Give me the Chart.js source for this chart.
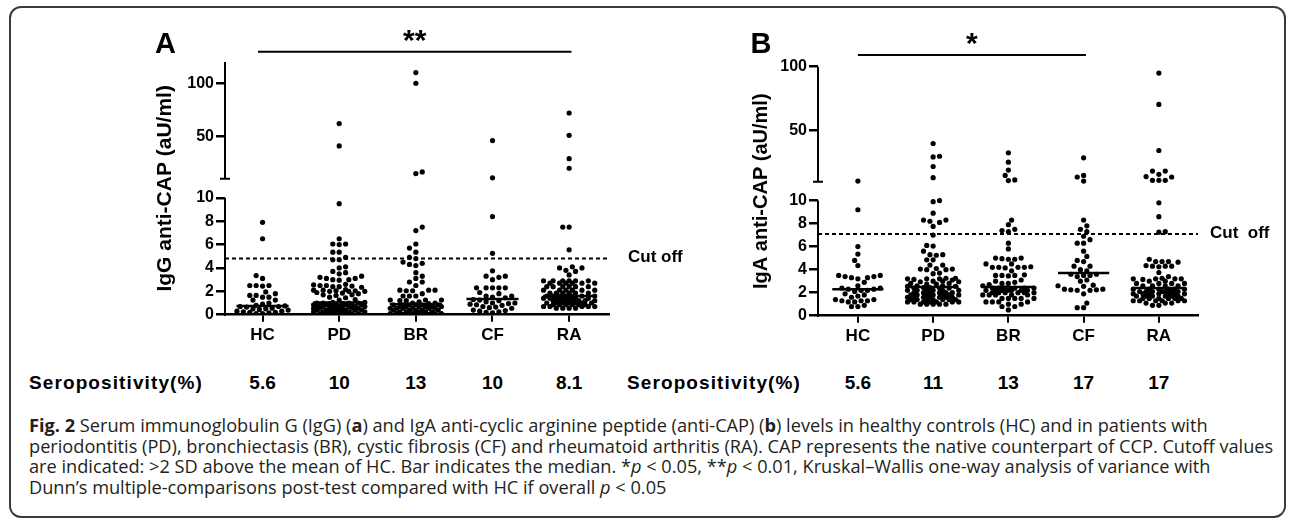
<!DOCTYPE html>
<html>
<head>
<meta charset="utf-8">
<script src="https://cdn.jsdelivr.net/npm/chart.js@4.4.1/dist/chart.umd.min.js"></script>
<style>
  body { margin: 0; background: #fff; width: 1292px; height: 520px; position: relative; overflow: hidden; }
  #frame { position: absolute; left: 9px; top: 6px; width: 1277px; height: 512px; box-sizing: border-box;
           border: 2px solid #3a3a3a; border-radius: 12px; }
  canvas { position: absolute; top: 0; }
  #cA { left: 0; }
  #cB { left: 700px; }
  .sero { position: absolute; top: 372px; font: bold 19px 'Liberation Sans', Arial, sans-serif; line-height: 22px; color: #000; white-space: nowrap; }
  .serolab { letter-spacing: 1.1px; }
  .val { transform: translateX(-50%); }
  #caption { position: absolute; left: 29px; top: 415px; font-family: 'Open Sans', sans-serif; font-size: 18.2px;
             line-height: 20.5px; color: #231f20; white-space: nowrap; }
</style>
</head>
<body>
<div id="frame"></div>
<canvas id="cA" width="700" height="360"></canvas>
<canvas id="cB" width="592" height="360"></canvas>
<div class="sero serolab" style="left:29px">Seropositivity(%)</div>
<div class="sero serolab" style="left:627px">Seropositivity(%)</div>
<div id="caption"><b>Fig. 2</b> Serum immunoglobulin G (IgG) (<b>a</b>) and IgA anti-cyclic arginine peptide (anti-CAP) (<b>b</b>) levels in healthy controls (HC) and in patients with<br>periodontitis (PD), bronchiectasis (BR), cystic fibrosis (CF) and rheumatoid arthritis (RA). CAP represents the native counterpart of CCP. Cutoff values<br>are indicated: &gt;2 SD above the mean of HC. Bar indicates the median. *<i>p</i> &lt; 0.05, **<i>p</i> &lt; 0.01, Kruskal–Wallis one-way analysis of variance with<br>Dunn’s multiple-comparisons post-test compared with HC if overall <i>p</i> &lt; 0.05</div>
<script>
// groups on the x axis
const groups = ['HC', 'PD', 'BR', 'CF', 'RA'];

// panel A: IgG anti-CAP (aU/ml)
const hcA = [7.9, 6.5, 3.35, 3.1, 2.5, 2.5, 2.5, 2.45, 1.95, 1.8, 1.65, 1.65, 1.5, 1.5, 1.25, 1.25,
  1.0, 0.9, 0.8, 0.75, 0.7, 0.7, 0.65, 0.55, 0.5, 0.5, 0.45, 0.4, 0.3, 0.3, 0.25, 0.2, 0.2, 0.15, 0.1, 0.1];
const pdA = [62, 41, 9.5, 6.5, 6.05, 6.05, 6.0, 5.35, 5.35, 4.9, 4.7, 4.7, 4.1, 4.0, 3.7, 3.6, 3.5,
  3.3, 3.2, 3.1, 3.1, 3.0, 3.0, 2.95, 2.6, 2.55, 2.5, 2.5, 2.45, 2.4, 2.4, 2.35,
  2.15, 2.1, 2.1, 2.05, 2.05, 2.0, 2.0, 2.0, 1.9, 1.85, 1.8, 1.7, 1.7, 1.65, 1.5, 1.45, 1.3, 1.25,
  1.05, 1.05, 1.0, 1.0, 1.0, 1.0, 0.95, 0.95, 0.85, 0.85, 0.85, 0.85, 0.85, 0.85, 0.85,
  0.7, 0.7, 0.7, 0.7, 0.7, 0.7, 0.7, 0.55, 0.55, 0.55, 0.55, 0.55, 0.55, 0.55,
  0.4, 0.4, 0.4, 0.4, 0.4, 0.4, 0.4, 0.25, 0.25, 0.25, 0.25, 0.25, 0.25, 0.25,
  0.1, 0.1, 0.1, 0.1, 0.1, 0.1, 0.1];
const brA = [110, 100, 16.5, 15, 7.5, 7.2, 6.05, 5.7, 5.35, 4.9, 4.8, 4.5, 4.4, 4.3, 4.2, 3.6, 3.3, 3.1,
  2.8, 2.8, 2.5, 2.1, 2.1, 2.1, 2.05, 2.05, 1.8, 1.6, 1.6, 1.6, 1.25, 1.25, 1.25, 1.2, 1.2, 1.1, 1.0, 1.0, 0.95,
  0.85, 0.85, 0.85, 0.85, 0.85, 0.85, 0.7, 0.7, 0.7, 0.7, 0.7, 0.7, 0.55, 0.55, 0.55, 0.55, 0.55, 0.55,
  0.4, 0.4, 0.4, 0.4, 0.4, 0.25, 0.25, 0.25, 0.25, 0.25, 0.1, 0.1, 0.1, 0.1, 0.1, 0.02, 0.02, 0.02, 0.02, 0.02];
const cfA = [46, 11, 8.4, 5.25, 3.75, 3.3, 3.3, 3.2, 3.0, 2.3, 2.3, 2.3, 2.3, 2.3, 1.9, 1.8, 1.6, 1.6, 1.5, 1.45,
  1.3, 1.25, 1.2, 1.1, 1.0, 1.0, 0.95, 0.9, 0.85, 0.8, 0.7, 0.65, 0.6, 0.55, 0.4, 0.35, 0.3, 0.25, 0.2, 0.15];
const raA = [72, 51, 29, 20, 7.5, 7.5, 5.55, 4.1, 4.0, 4.0, 3.8, 3.7, 3.4,
  2.9, 2.9, 2.9, 2.9, 2.9, 2.9, 2.7, 2.7, 2.7, 2.7, 2.7, 2.7, 2.4, 2.4, 2.4, 2.4, 2.4, 2.4,
  2.1, 2.1, 2.1, 2.1, 2.1, 2.1, 1.85, 1.85, 1.85, 1.85, 1.85, 1.85,
  1.6, 1.6, 1.6, 1.6, 1.6, 1.6, 1.6, 1.4, 1.4, 1.4, 1.4, 1.4, 1.4, 1.4,
  1.2, 1.2, 1.2, 1.2, 1.2, 1.2, 1.2, 1.0, 1.0, 1.0, 1.0, 1.0, 1.0, 1.0,
  0.85, 0.85, 0.85, 0.85, 0.85, 0.85, 0.7, 0.7, 0.7, 0.7, 0.7, 0.55, 0.55, 0.55, 0.55];
const medianA = [0.75, 1.05, 0.9, 1.35, 1.6];
const cutA = 4.8;
const seroA = ['5.6', '10', '13', '10', '8.1'];

// panel B: IgA anti-CAP (aU/ml)
const hcB = [10.6, 9.2, 6.0, 5.35, 4.8, 4.35, 3.5, 3.5, 3.4, 3.4, 3.3, 3.3, 3.2, 2.9, 2.6,
  2.4, 2.4, 2.3, 2.3, 2.2, 2.2, 2.1, 1.9, 1.8, 1.7, 1.6, 1.4, 1.4, 1.3, 1.3, 1.3, 1.2, 1.2, 0.9, 0.8, 0.8];
const pdB = [40, 30, 29.5, 22, 13.3, 10.0, 9.9, 8.9, 8.3, 8.3, 8.2, 8.1, 7.75, 7.0, 6.1, 6.05, 5.6,
  5.3, 5.3, 5.25, 4.85, 4.85, 4.4, 4.4, 4.05, 4.05, 4.0, 4.0, 4.1, 3.7, 3.65,
  3.25, 3.2, 3.2, 3.15, 3.2, 3.1, 3.25, 3.0, 3.0, 2.95, 2.95, 2.8, 2.8, 2.75, 2.75, 2.6, 2.6, 2.55, 2.55,
  2.45, 2.45, 2.4, 2.4, 2.4, 2.2, 2.2, 2.2, 2.2, 2.2, 2.2, 2.0, 2.0, 2.0, 2.0, 2.0, 2.0,
  1.8, 1.8, 1.8, 1.8, 1.8, 1.8, 1.8, 1.6, 1.6, 1.6, 1.6, 1.6, 1.6, 1.6,
  1.4, 1.4, 1.4, 1.4, 1.4, 1.4, 1.4, 1.2, 1.2, 1.2, 1.2, 1.2, 1.2, 1.2, 1.0, 1.0, 1.0, 1.0, 1.0];
const brB = [32.7, 25.4, 19.2, 15, 11.5, 11.0, 8.3, 7.9, 7.5, 7.4, 7.3, 6.3, 5.8, 5.0, 5.0, 4.95, 4.9, 4.9,
  4.5, 4.5, 4.2, 4.2, 4.2, 4.15, 4.2, 4.25, 3.9, 3.5, 3.5, 3.45, 3.5, 3.55,
  3.1, 3.0, 2.9, 2.8, 2.8, 2.7, 2.6, 2.4, 2.4, 2.4, 2.4, 2.4, 2.4, 2.2, 2.2, 2.2, 2.2, 2.2, 2.2, 2.2,
  2.0, 2.0, 2.0, 2.0, 2.0, 2.0, 1.8, 1.8, 1.8, 1.8, 1.8, 1.5, 1.5, 1.5, 1.5, 1.5,
  1.2, 1.2, 1.2, 1.2, 1.0, 1.0, 0.8, 0.8, 0.5];
const cfB = [28.8, 15, 13.8, 10.6, 8.3, 7.8, 7.5, 7.3, 6.9, 6.6, 6.3, 6.3, 5.6, 5.15, 4.8, 4.7, 4.3, 4.3, 4.0, 3.9,
  3.6, 3.6, 3.5, 3.5, 3.4, 3.1, 3.0, 2.65, 2.6, 2.55, 2.3, 2.3, 2.25, 2.25, 2.2, 2.2, 1.9, 1.1, 0.7, 0.7];
const raB = [95, 70.5, 34.5, 18.4, 18.4, 15.9, 14.1, 13.8, 11.2, 11.2, 11.2, 9.8, 8.6, 7.3, 7.25,
  4.9, 4.7, 4.7, 4.65, 4.7, 4.3, 4.3, 4.3, 4.35, 4.25, 3.75, 3.4, 3.2, 3.2, 3.2, 3.15, 3.2, 3.25,
  3.0, 3.0, 2.8, 2.8, 2.8, 2.8, 2.6, 2.6, 2.6, 2.6, 2.3, 2.3, 2.3, 2.3, 2.3, 2.3,
  2.1, 2.1, 2.1, 2.1, 2.1, 2.1, 2.1, 1.9, 1.9, 1.9, 1.9, 1.9, 1.9, 1.9,
  1.7, 1.7, 1.7, 1.7, 1.7, 1.7, 1.5, 1.5, 1.5, 1.5, 1.5, 1.5, 1.3, 1.3, 1.3, 1.3, 1.3, 1.3,
  1.1, 1.1, 1.1, 0.9, 0.9];
const medianB = [2.3, 2.5, 2.5, 3.7, 2.4];
const cutB = 7.1;
const seroB = ['5.6', '11', '13', '17', '17'];

const yTicksA = [0, 2, 4, 6, 8, 10, 50, 100];
const yTicksB = [0, 2, 4, 6, 8, 10, 50, 100];

Chart.defaults.font.family = "'Liberation Sans', Arial, sans-serif";
Chart.defaults.color = '#000';

// linear axis with a gap: 0..split in the lower part, split..max in the upper part
class BrokenLinear extends Chart.LinearScale {
  frac(v) {
    const b = this.options.brk;
    if (v <= b.split) return v / b.split * b.low;
    return b.low + b.gap + (v - b.split) / (this.max - b.split) * (1 - b.low - b.gap);
  }
  getPixelForValue(v) {
    return v === null || v === undefined ? NaN : this.getPixelForDecimal(this.frac(v));
  }
  getValueForPixel(p) {
    const b = this.options.brk;
    const d = this.getDecimalForPixel(p);
    if (d <= b.low) return d / b.low * b.split;
    return b.split + (d - b.low - b.gap) / (1 - b.low - b.gap) * (this.max - b.split);
  }
}
BrokenLinear.id = 'broken';
BrokenLinear.defaults = Chart.LinearScale.defaults;
Chart.register(BrokenLinear);

// axis pieces, significance bar, panel letter and cut-off label
const decor = {
  id: 'decor',
  afterDraw(chart, args, o) {
    const { ctx, chartArea: a, scales: { x, y } } = chart;
    const split = y.options.brk.split;
    const p0 = y.getPixelForValue(0), p10 = y.getPixelForValue(split);
    const pb = y.getPixelForValue(split + 1e-6), pt = y.getPixelForValue(y.max);
    ctx.save();
    ctx.strokeStyle = '#000';
    ctx.lineWidth = 2.5;
    ctx.beginPath();
    ctx.moveTo(a.left, p0 + 1.2); ctx.lineTo(a.left, p10);
    ctx.moveTo(a.left, pb); ctx.lineTo(a.left, pt);
    ctx.moveTo(a.left - 5, pb); ctx.lineTo(a.left + 5, pb);
    // significance bar
    const sy = a.top - o.sigDy;
    const sx0 = x.getPixelForValue(o.sig[0]), sx1 = x.getPixelForValue(o.sig[1]);
    ctx.moveTo(sx0, sy); ctx.lineTo(sx1, sy);
    ctx.lineWidth = 2;
    ctx.stroke();
    ctx.fillStyle = '#000';
    ctx.textAlign = 'center';
    ctx.textBaseline = 'alphabetic';
    ctx.font = "bold 30px 'Liberation Sans', Arial";
    ctx.fillText(o.stars, (sx0 + sx1) / 2, sy - 2);
    // panel letter
    ctx.textAlign = 'left';
    ctx.font = "bold 29px 'Liberation Sans', Arial";
    ctx.fillText(o.letter, a.left - o.letterDx, 53);
    // cut-off label
    ctx.font = "bold 17px 'Liberation Sans', Arial";
    ctx.textBaseline = 'middle';
    ctx.fillText(o.cutText, a.right + o.cutGap, y.getPixelForValue(o.cut) - 1);
    ctx.restore();
  }
};

// spread the dots of one column sideways so they do not sit on top of each other
function swarm(vals, idx, x, y) {
  const unit = x.getPixelForValue(1) - x.getPixelForValue(0);
  const dot = 5.4;
  const slots = [0];
  for (let k = 1; k <= 8; k++) slots.push(k * 3.2, -k * 3.2);
  const pts = vals.slice().sort((a, b) => a - b).map(v => ({ v, py: y.getPixelForValue(v), px: 0 }));
  const done = [];
  pts.forEach((p, n) => {
    let best = 0, bestD = -1;
    for (const s0 of slots) {
      const s = n % 2 ? -s0 : s0;
      let d = Infinity;
      for (const q of done) {
        if (Math.abs(q.py - p.py) < dot) d = Math.min(d, Math.hypot(q.px - s, q.py - p.py));
      }
      if (d >= dot) { best = s; break; }
      if (d > bestD) { bestD = d; best = s; }
    }
    p.px = best;
    done.push(p);
  });
  return pts.map(p => ({ x: idx + p.px / unit, y: p.v }));
}

function panel(id, cfg) {
  const medLine = cfg.medians.flatMap((m, i) => [{ x: i - 0.34, y: m }, { x: i + 0.34, y: m }, { x: i + 0.34, y: null }]);
  const datasets = [
    { type: 'line', data: medLine, borderColor: '#000', borderWidth: 2.5, pointRadius: 0, spanGaps: false },
    { type: 'line', data: [{ x: cfg.xMin, y: cfg.cut }, { x: cfg.xMax, y: cfg.cut }], borderColor: '#000',
      borderWidth: 2, borderDash: [4, 3], pointRadius: 0 }
  ];
  cfg.values.forEach((vals, i) => {
    datasets.push({ data: vals.map(v => ({ x: i, y: v })), vals, idx: i, backgroundColor: '#000',
      borderWidth: 0, pointRadius: 2.6, pointHoverRadius: 2.6 });
  });
  const chart = new Chart(document.getElementById(id), {
    type: 'scatter',
    data: { datasets },
    plugins: [decor],
    options: {
      responsive: false,
      animation: false,
      devicePixelRatio: 1,
      events: [],
      layout: { padding: cfg.pad },
      plugins: {
        legend: { display: false },
        tooltip: { enabled: false },
        decor: { sig: cfg.sig, sigDy: cfg.sigDy, stars: cfg.stars, letter: cfg.letter, letterDx: cfg.letterDx,
                 cut: cfg.cut, cutText: cfg.cutText, cutGap: cfg.cutGap }
      },
      scales: {
        x: {
          type: 'linear', min: cfg.xMin, max: cfg.xMax,
          afterBuildTicks: s => { s.ticks = groups.map((g, i) => ({ value: i })); },
          afterFit: s => { s.height = 30; },
          border: { display: true, color: '#000', width: 2.5 },
          grid: { drawOnChartArea: false, drawTicks: true, tickLength: 7, lineWidth: 2, color: '#000' },
          ticks: { autoSkip: false, maxRotation: 0, padding: 3, font: { size: 17, weight: 'bold' },
                   callback: (v, i) => groups[i] }
        },
        y: {
          type: 'broken', min: 0, max: cfg.yMax,
          brk: { split: 10, low: 0.4625, gap: 0.075 },
          afterBuildTicks: s => { s.ticks = cfg.yTicks.map(v => ({ value: v })); },
          afterFit: s => { s.width = 85; },
          border: { display: false },
          grid: { drawOnChartArea: false, drawTicks: true, tickLength: 9, lineWidth: 2.5, color: '#000' },
          ticks: { autoSkip: false, padding: 2, font: { size: 16, weight: 'bold' }, callback: v => String(v) },
          title: { display: true, text: cfg.title, font: { size: cfg.titleSize, weight: 'bold' },
                   padding: { top: cfg.titlePad, bottom: 0 } }
        }
      }
    }
  });
  // now that the scales exist, lay the dots out in pixels
  const { x, y } = chart.scales;
  chart.data.datasets.forEach(ds => {
    if (ds.vals) ds.data = swarm(ds.vals, ds.idx, x, y);
  });
  chart.update('none');
  // seropositivity numbers under each group
  const left = parseFloat(getComputedStyle(chart.canvas).left);
  cfg.sero.forEach((s, i) => {
    const d = document.createElement('div');
    d.className = 'sero val';
    d.style.left = (left + x.getPixelForValue(i)) + 'px';
    d.textContent = s;
    document.body.appendChild(d);
  });
  return chart;
}

panel('cA', {
  values: [hcA, pdA, brA, cfA, raA], medians: medianA, cut: cutA, sero: seroA,
  yTicks: yTicksA, yMax: 120, xMin: -0.49, xMax: 4.52,
  pad: { left: 140, right: 91, top: 62, bottom: 15.3 },
  title: 'IgG anti-CAP (aU/ml)', titleSize: 21, titlePad: 12.4,
  sig: [-0.06, 4.03], sigDy: 10.3, stars: '**', letter: 'A', letterDx: 70, cutText: 'Cut off', cutGap: 19
});
panel('cB', {
  values: [hcB, pdB, brB, cfB, raB], medians: medianB, cut: cutB, sero: seroB,
  yTicks: yTicksB, yMax: 100, xMin: -0.53, xMax: 4.52,
  pad: { left: 33, right: 94, top: 66.7, bottom: 14.3 },
  title: 'IgA anti-CAP (aU/ml)', titleSize: 20, titlePad: 16,
  sig: [0, 3.03], sigDy: 11.7, stars: '*', letter: 'B', letterDx: 67.5, cutText: 'Cut  off', cutGap: 12
});
</script>
</body>
</html>
